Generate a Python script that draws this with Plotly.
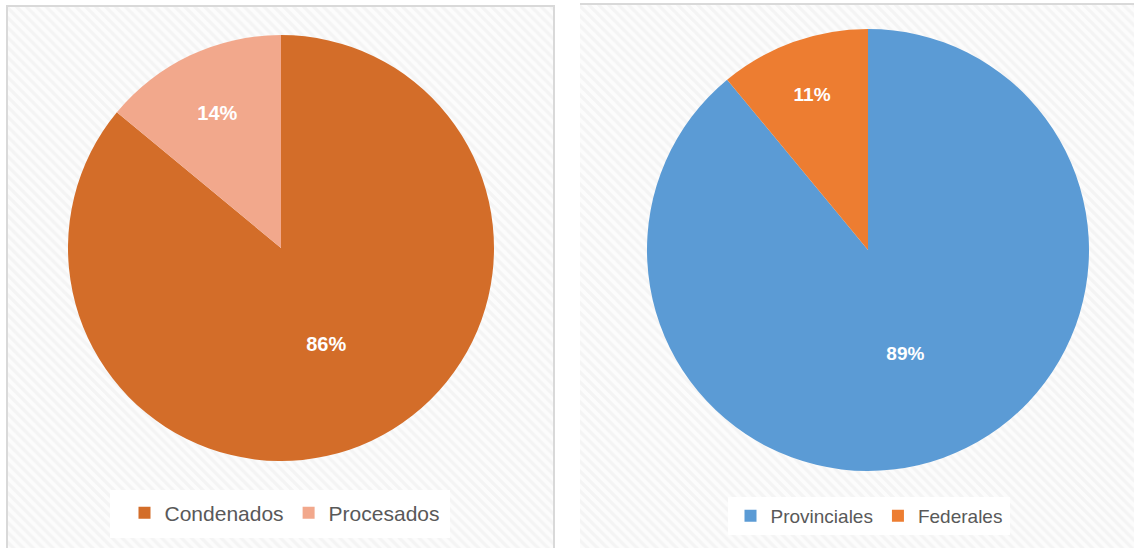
import plotly.graph_objects as go

W, H = 1134, 548

left_labels = ["Condenados", "Procesados"]
left_values = [86, 14]
left_colors = ["#D36D29", "#F2A88C"]

right_labels = ["Provinciales", "Federales"]
right_values = [89, 11]
right_colors = ["#5B9BD5", "#ED7D31"]


def px_x(x):
    return x / W


def px_y(y):
    return 1 - y / H


fig = go.Figure()

# textured chart-area backgrounds (decoration, pixel coords on hidden axes)
for (x0, x1, y0, y1) in [(7, 554, 6, 560), (580, 1150, 4, 560)]:
    fig.add_trace(go.Scatter(
        x=[x0, x1, x1, x0, x0], y=[y0, y0, y1, y1, y0], mode="lines",
        fill="toself", line=dict(width=0), fillcolor="#f9f9f9",
        fillpattern=dict(shape="\\", fgcolor="#ebebeb", bgcolor="#fcfcfc", size=7, solidity=0.45),
        hoverinfo="skip", showlegend=False,
    ))

# left pie: centre (281,248) r 213
fig.add_trace(go.Pie(
    labels=left_labels, values=left_values, sort=False, direction="clockwise",
    rotation=0, marker=dict(colors=left_colors, line=dict(width=0)),
    texttemplate="<b>%{percent:.0%}</b>", textposition="inside",
    insidetextorientation="horizontal",
    textfont=dict(color="white", size=20, family="Liberation Sans"),
    domain=dict(x=[px_x(68), px_x(494)], y=[px_y(461), px_y(35)]),
    legend="legend", hoverinfo="label+percent",
))

# right pie: centre (868,250) r 221
fig.add_trace(go.Pie(
    labels=right_labels, values=right_values, sort=False, direction="clockwise",
    rotation=0, marker=dict(colors=right_colors, line=dict(width=0)),
    texttemplate="<b>%{percent:.0%}</b>", textposition="inside",
    insidetextorientation="horizontal",
    textfont=dict(color="white", size=19, family="Liberation Sans"),
    domain=dict(x=[px_x(647), px_x(1089)], y=[px_y(471), px_y(29)]),
    legend="legend2", hoverinfo="label+percent",
))

shapes = [
    # left panel border
    dict(type="rect", xref="paper", yref="paper",
         x0=px_x(7), x1=px_x(554), y0=px_y(560), y1=px_y(6),
         fillcolor="rgba(0,0,0,0)", line=dict(color="#d9d9d9", width=2), layer="above"),
    # right panel top border
    dict(type="line", xref="paper", yref="paper",
         x0=px_x(580), x1=1, y0=px_y(4), y1=px_y(4),
         line=dict(color="#d9d9d9", width=2), layer="above"),
    # legend boxes
    dict(type="rect", xref="paper", yref="paper",
         x0=px_x(110), x1=px_x(450), y0=px_y(538), y1=px_y(490),
         fillcolor="white", line=dict(width=0), layer="above"),
    dict(type="rect", xref="paper", yref="paper",
         x0=px_x(728), x1=px_x(1010), y0=px_y(535), y1=px_y(497),
         fillcolor="white", line=dict(width=0), layer="above"),
]

fig.update_layout(
    width=W, height=H, margin=dict(l=0, r=0, t=0, b=0),
    paper_bgcolor="white", plot_bgcolor="white",
    xaxis=dict(range=[0, W], visible=False, fixedrange=True),
    yaxis=dict(range=[H, 0], visible=False, fixedrange=True),
    shapes=shapes,
    legend=dict(orientation="h", x=px_x(285), y=px_y(513), xanchor="center", yanchor="middle",
                bgcolor="rgba(0,0,0,0)", font=dict(size=21, color="#595959", family="Liberation Sans"),
                itemclick=False, itemdoubleclick=False),
    legend2=dict(orientation="h", x=px_x(869), y=px_y(516), xanchor="center", yanchor="middle",
                 bgcolor="rgba(0,0,0,0)", font=dict(size=19, color="#595959", family="Liberation Sans"),
                 itemclick=False, itemdoubleclick=False),
)

fig.write_html("out.html", config={"displayModeBar": False},
               post_script="document.body.style.margin='0px';")
